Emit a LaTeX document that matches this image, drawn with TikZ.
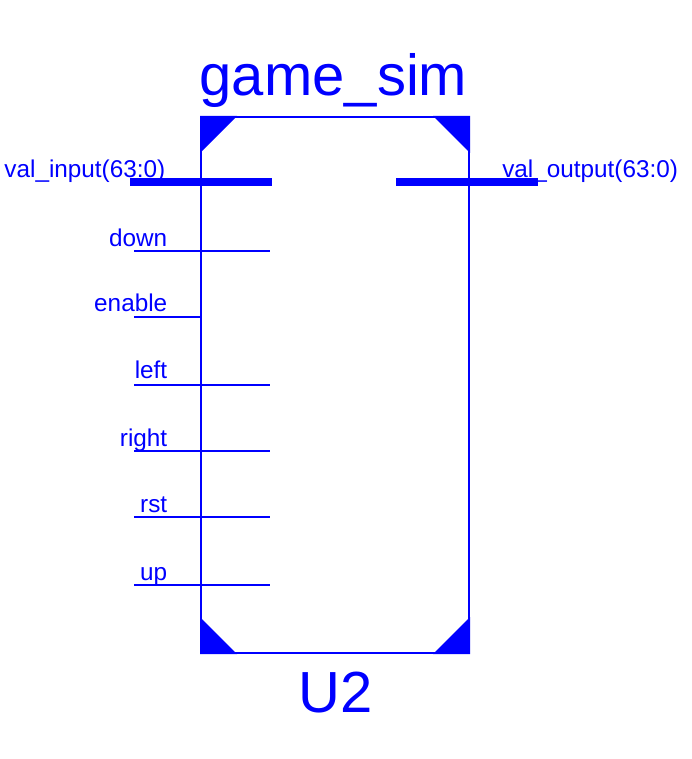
\documentclass[tikz,border=0pt]{standalone}
\usepackage{fontspec}
\setmainfont{Liberation Sans}
\usepackage{tikz}
\usetikzlibrary{positioning}
\definecolor{symblue}{RGB}{0,0,255}

\begin{document}
\begin{tikzpicture}[x=1pt,y=-1pt,-,semithick,
    symbox/.style={draw=symblue,line width=2pt,inner sep=0pt,outer sep=0pt,minimum width=268pt,minimum height=536pt},
    pinname/.style={text=symblue,font=\fontsize{24.3}{25}\selectfont,inner sep=0pt},
    symname/.style={text=symblue,font=\fontsize{58}{60}\selectfont,inner sep=0pt},
    bitpin/.style={draw=symblue,line width=2pt},
    buspin/.style={draw=symblue,line width=8pt},
    cornermark/.style={fill=symblue}]
\useasboundingbox (0,0) rectangle (692,759);

\node[symbox] (BOX) at (335,385) {};

\node[symname,anchor=base] (TITLE) at (333.5,96) {game\_sim};
\node[symname,anchor=base] (INST) at (335.5,712) {U2};

% corners
\fill[cornermark] (BOX.north west) ++(-1,-1) -- ++(37,0) -- ++(-37,37) -- cycle;
\fill[cornermark] (BOX.north east) ++(1,-1) -- ++(-37,0) -- ++(37,37) -- cycle;
\fill[cornermark] (BOX.south west) ++(-1,1) -- ++(37,0) -- ++(-37,-37) -- cycle;
\fill[cornermark] (BOX.south east) ++(1,1) -- ++(-37,0) -- ++(37,-37) -- cycle;

% pin ends
\coordinate (A0) at (130,182);   \coordinate (B0) at (272,182);
\coordinate (A1) at (134,250.5); \coordinate (B1) at (270,250.5);
\coordinate (A2) at (134,316.5); \coordinate (B2) at (201,316.5);
\coordinate (A3) at (134,384.5); \coordinate (B3) at (270,384.5);
\coordinate (A4) at (134,450.5); \coordinate (B4) at (270,450.5);
\coordinate (A5) at (134,516.5); \coordinate (B5) at (270,516.5);
\coordinate (A6) at (134,584.5); \coordinate (B6) at (270,584.5);
\coordinate (A7) at (396,182);   \coordinate (B7) at (538,182);

\path (A0) edge[buspin] (B0)
      (A7) edge[buspin] (B7);
\path (A1) edge[bitpin] (B1)
      (A2) edge[bitpin] (B2)
      (A3) edge[bitpin] (B3)
      (A4) edge[bitpin] (B4)
      (A5) edge[bitpin] (B5)
      (A6) edge[bitpin] (B6);

\node[pinname,anchor=base east] (L0) at (165.5,178) {val\_input(63:0)};
\node[pinname,anchor=base east] (L1) at (167.5,246) {down};
\node[pinname,anchor=base east] (L2) at (167.5,311.5) {enable};
\node[pinname,anchor=base east] (L3) at (167.5,378) {left};
\node[pinname,anchor=base east] (L4) at (167.5,446) {right};
\node[pinname,anchor=base east] (L5) at (167.5,512) {rst};
\node[pinname,anchor=base east] (L6) at (167.5,580) {up};
\node[pinname,anchor=base west] (L7) at (502,178) {val\_output(63:0)};
\end{tikzpicture}
\end{document}
